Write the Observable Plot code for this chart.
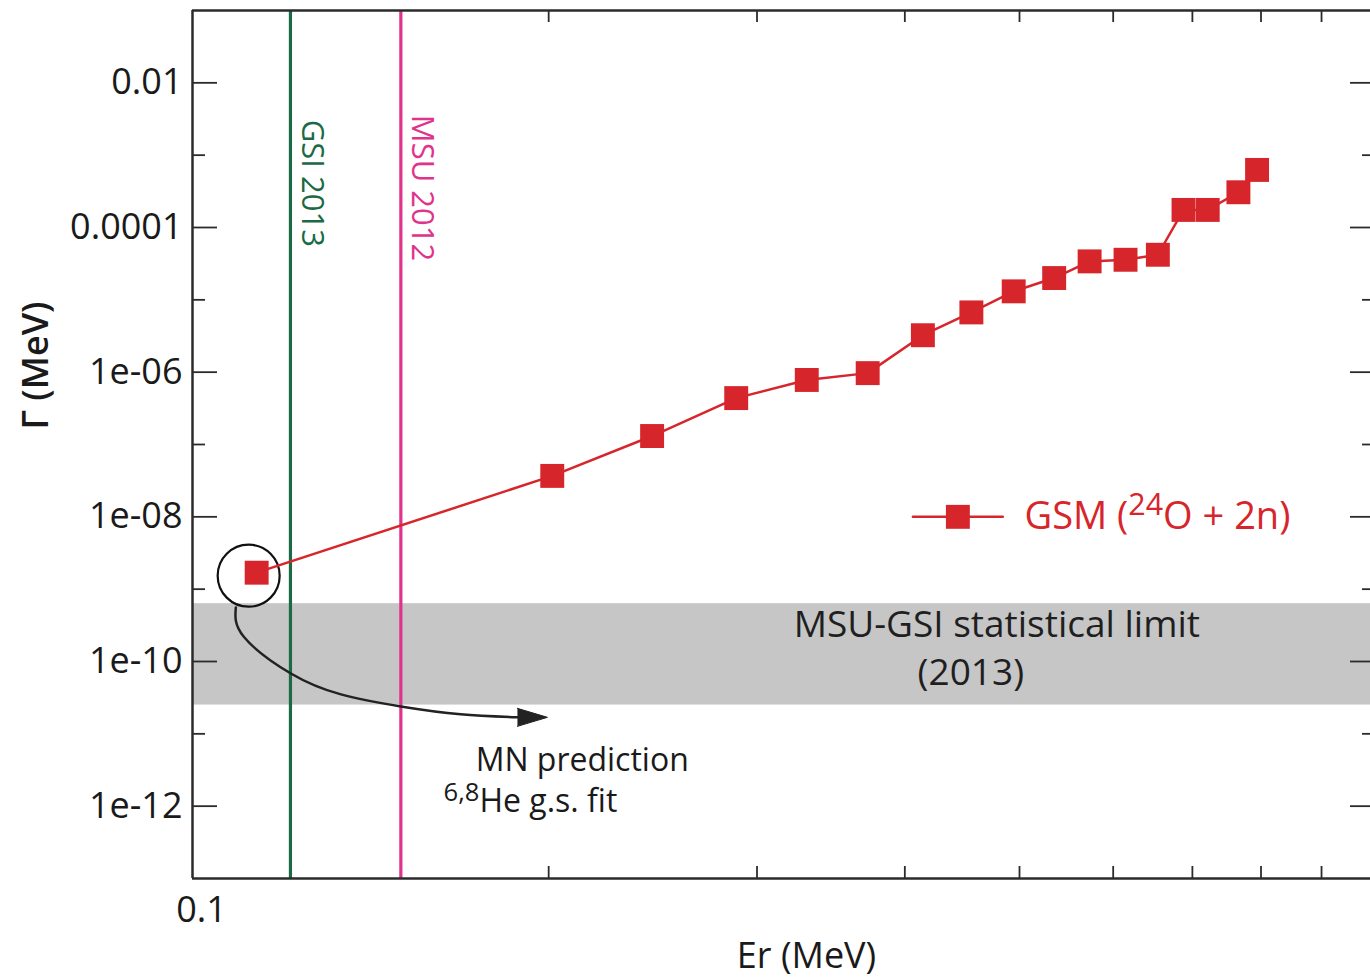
<!DOCTYPE html>
<html><head><meta charset="utf-8">
<script src="https://cdn.jsdelivr.net/npm/d3@7"></script>
<script src="https://cdn.jsdelivr.net/npm/@observablehq/plot@0.6"></script>
<style>body{margin:0;background:#fff;}</style>
</head><body><div id="chart"></div>
<script>
// GSM (24O + 2n) resonance: energy Er (MeV) and width Γ (MeV)
const energy = [0.1133, 0.2014, 0.2446, 0.2881, 0.3305, 0.3721, 0.4143, 0.4553, 0.4944, 0.5349, 0.5731, 0.6146, 0.6545, 0.6880, 0.7212, 0.7656, 0.7939];
const gamma  = [1.69e-9, 3.68e-8, 1.31e-7, 4.38e-7, 7.8e-7, 9.7e-7, 3.24e-6, 6.7e-6, 1.31e-5, 2.0e-5, 3.4e-5, 3.58e-5, 4.2e-5, 1.75e-4, 1.75e-4, 3.07e-4, 6.25e-4];

const xDomain = [0.1, 0.99];
const yDomain = [1e-13, 0.1];
const xTicks = [0.2, 0.3, 0.4, 0.5, 0.6, 0.7, 0.8, 0.9];
const xLabelTicks = [0.1];
const xLabelText = ["0.1"];
const yLabelTicks = [1e-2, 1e-4, 1e-6, 1e-8, 1e-10, 1e-12];
const yLabelText = ["0.01", "0.0001", "1e-06", "1e-08", "1e-10", "1e-12"];
const yMinorTicks = [1e-3, 1e-5, 1e-7, 1e-9, 1e-11];

// experimental limits (vertical lines)
const refNames = ["GSI 2013", "MSU 2012"];
const refEnergy = [0.121, 0.15];
const refColors = ["#1b6a45", "#e0338b"];
const refLabelY = [3.09e-3, 3.62e-3];

// statistical limit band
const bandLow = 2.5e-11, bandHigh = 6.3e-10;
const bandText = ["MSU-GSI statistical limit", "(2013)"];
const bandTextX = [0.4784, 0.4548];
const bandTextY = [3.15e-10, 6.8e-11];

// MN prediction annotation (curved arrow path + label)
const arrowX = [0.1088, 0.1105, 0.1211, 0.1335, 0.1500, 0.1685, 0.1882];
const arrowY = [5.6e-10, 2.2e-10, 6.83e-11, 3.51e-11, 2.39e-11, 1.86e-11, 1.69e-11];
const noteText = ["MN prediction", "^{6,8}He g.s. fit"];
const noteX = [0.1735, 0.1630];
const noteY = [4.3e-12, 1.15e-12];

// legend
const legendLineX = [0.4063, 0.4840];
const legendMarkX = 0.4435, legendTextX = 0.5050, legendY = 1e-8;
const legendText = "GSM (^{24}O + 2n)";

const red = "#d7262b";
const axisColor = "#2b2b2b";
const W = 1370, H = 980, mL = 192, mR = 0, mT = 10, mB = 102;
const fw = W - mL - mR, fh = H - mT - mB;

const pts = energy.map((e, i) => ({e, g: gamma[i]}));
const refs = refNames.map((n, i) => ({n, e: refEnergy[i], c: refColors[i], y: refLabelY[i]}));
const arrowPts = arrowX.map((x, i) => ({x, y: arrowY[i]}));

const plot = Plot.plot({
  width: W, height: H,
  marginLeft: mL, marginRight: mR, marginTop: mT, marginBottom: mB,
  x: {type: "log", domain: xDomain},
  y: {type: "log", domain: yDomain},
  style: {fontFamily: "'Open Sans', sans-serif", fontSize: "36px", color: "#1a1a1a", background: "#fff"},
  marks: [
    Plot.rect([0], {x1: xDomain[0], x2: xDomain[1], y1: bandLow, y2: bandHigh, fill: "#c6c6c6"}),
    Plot.text(bandText, {x: (d, i) => bandTextX[i], y: (d, i) => bandTextY[i], text: d => d, fontSize: 37, fill: "#1f1f1f", textAnchor: "middle", lineAnchor: "middle"}),
    Plot.ruleX(refs, {x: "e", stroke: "c", strokeWidth: 3.2}),
    Plot.text(refs, {x: "e", y: "y", text: "n", fill: "c", rotate: 90, dx: 21, textAnchor: "start", lineAnchor: "middle", fontSize: 31}),
    // frame
    Plot.ruleX([xDomain[0]], {stroke: axisColor, strokeWidth: 2.5}),
    Plot.ruleY([yDomain[1]], {stroke: axisColor, strokeWidth: 2.5}),
    Plot.ruleY([yDomain[0]], {stroke: axisColor, strokeWidth: 2.5}),
    // inward ticks
    Plot.tickY(yLabelTicks, {y: d => d, insetRight: fw - 25, stroke: axisColor, strokeWidth: 1.8}),
    Plot.tickY(yMinorTicks, {y: d => d, insetRight: fw - 13, stroke: axisColor, strokeWidth: 1.8}),
    Plot.tickY(yLabelTicks, {y: d => d, insetLeft: fw - 20, stroke: axisColor, strokeWidth: 1.8}),
    Plot.tickY(yMinorTicks, {y: d => d, insetLeft: fw - 8, stroke: axisColor, strokeWidth: 1.8}),
    Plot.tickX(xTicks, {x: d => d, insetTop: fh - 12, stroke: axisColor, strokeWidth: 1.8}),
    Plot.tickX(xTicks, {x: d => d, insetBottom: fh - 12, stroke: axisColor, strokeWidth: 1.8}),
    Plot.axisY({ticks: yLabelTicks, tickSize: 0, tickPadding: 10, fontSize: 36, tickFormat: d => yLabelText[yLabelTicks.indexOf(d)], label: null}),
    Plot.axisX({ticks: xLabelTicks, tickSize: 0, tickPadding: 18, dx: 9, fontSize: 36, tickFormat: d => xLabelText[xLabelTicks.indexOf(d)], label: null}),
    Plot.text(["Γ (MeV)"], {frameAnchor: "left", dx: -156, dy: -79, rotate: -90, textAnchor: "middle", lineAnchor: "middle", text: d => d, fontSize: 36, fontWeight: 600, fill: "#1a1a1a"}),
    Plot.text(["Er (MeV)"], {frameAnchor: "bottom", dx: 25, dy: 78, textAnchor: "middle", lineAnchor: "middle", text: d => d, fontSize: 36, fill: "#1a1a1a"}),
    // MN prediction annotation
    Plot.line(arrowPts, {x: "x", y: "y", curve: "natural", stroke: "#222", strokeWidth: 2.5}),
    Plot.vector([arrowPts[arrowPts.length - 1]], {x: "x", y: "y", rotate: 90, length: 30, r: 9, anchor: "start", shape: "spike", fill: "#222", stroke: "#222", strokeWidth: 1}),
    Plot.text(noteText, {x: (d, i) => noteX[i], y: (d, i) => noteY[i], text: d => d, textAnchor: "start", lineAnchor: "middle", fontSize: 32, fill: "#1a1a1a"}),
    Plot.dot([pts[0]], {x: "e", y: "g", r: 31, dx: -8, dy: 3, stroke: "#111", strokeWidth: 2.2, fill: "none"}),
    // data
    Plot.line(pts, {x: "e", y: "g", stroke: red, strokeWidth: 2.5}),
    Plot.dot(pts, {x: "e", y: "g", symbol: "square", r: 13.5, fill: red}),
    // legend
    Plot.line(legendLineX.map(x => ({x, y: legendY})), {x: "x", y: "y", stroke: red, strokeWidth: 2.5}),
    Plot.dot([{x: legendMarkX, y: legendY}], {x: "x", y: "y", symbol: "square", r: 13.5, fill: red}),
    Plot.text([legendText], {x: legendTextX, y: legendY, text: d => d, textAnchor: "start", lineAnchor: "middle", fontSize: 38, fill: red})
  ]
});
document.getElementById("chart").appendChild(plot);

// render ^{...} as superscripts
plot.querySelectorAll("text").forEach(t => {
  const s = t.textContent;
  if (!s.includes("^{")) return;
  const fs = parseFloat(getComputedStyle(t).fontSize);
  const parts = s.split(/\^\{([^}]*)\}/);
  while (t.firstChild) t.removeChild(t.firstChild);
  let raised = false;
  parts.forEach((p, i) => {
    if (p === "") return;
    const ts = document.createElementNS("http://www.w3.org/2000/svg", "tspan");
    ts.textContent = p;
    if (i % 2 === 1) {
      ts.setAttribute("font-size", (fs * 0.8).toFixed(1));
      ts.setAttribute("dy", (-0.36 * fs).toFixed(1));
      raised = true;
    } else if (raised) {
      ts.setAttribute("dy", (0.36 * fs).toFixed(1));
      raised = false;
    }
    t.appendChild(ts);
  });
});
</script>
</body></html>
